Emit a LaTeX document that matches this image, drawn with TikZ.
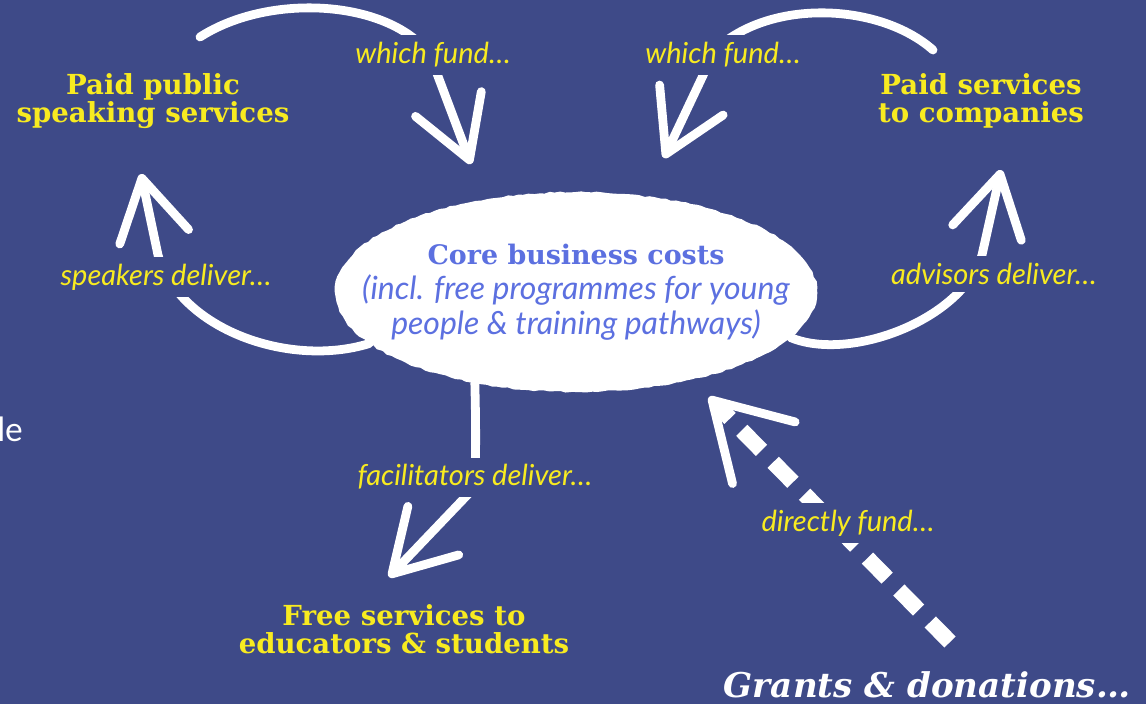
\documentclass[tikz,border=0pt]{standalone}
\usepackage{fontspec}
\setmainfont{DejaVu Serif}
\setsansfont{Lato}
\usetikzlibrary{arrows.meta,decorations.pathmorphing,shapes.geometric}

\definecolor{board}{RGB}{62,74,136}
\definecolor{sun}{RGB}{248,235,32}
\definecolor{ink}{RGB}{92,112,224}

\tikzset{
  chalk/.style={white,line width=5pt,line cap=round,line join=round},
  dashchalk/.style={white,line width=9pt,dash pattern=on 16pt off 9.5pt},
  head/.style={font=\bfseries\fontsize{15.7}{16}\selectfont,text=sun,align=center,inner sep=0pt},
  lbl/.style={font=\sffamily\itshape\fontsize{16.5}{18}\selectfont,text=sun,fill=board,inner sep=4pt},
  >={Straight Barb[length=34pt,width=40pt,round]}
}

\begin{document}
\begin{tikzpicture}[x=0.02cm,y=-0.02cm]
    \useasboundingbox (0,0) rectangle (1146,704);
    \fill[board] (0,0) rectangle (1146,704);

    % the four boxes of text round the middle
    \node[head](speak)at(153,101){Paid public\\speaking services};
    \node[head](firms)at(981,101){Paid services\\to companies};
    \node[head](free)at(404,629){Free services to\\educators \& students};
    \node[font=\bfseries\itshape\fontsize{19.4}{20}\selectfont,text=white,anchor=base,inner sep=0pt](grants)at(927,697){Grants \& donations…};
    \node[font=\sffamily\fontsize{19}{20}\selectfont,text=white,anchor=base west,inner sep=0pt](side)at(-3,441){le};

    % core costs
    \node[ellipse,fill=white,minimum width=9.64cm,minimum height=4cm,inner xsep=-25pt,inner ysep=4pt,align=center,
          text=ink,font=\sffamily\itshape\fontsize{18.2}{20}\selectfont,
          decorate,decoration={random steps,segment length=3pt,amplitude=.45pt}](core)at(576,292)
        {{\rmfamily\upshape\bfseries\fontsize{15.3}{16}\selectfont Core business costs}\\(incl. free programmes for young\\people \& training pathways)};

    % free ends of the loops
    \coordinate(spk-out)at(200,37);
    \coordinate(spk-tip)at(141,174);
    \coordinate(core-tipA)at(471,164);
    \coordinate(firm-out)at(933,50);
    \coordinate(firm-tip)at(1001,170);
    \coordinate(core-tipB)at(664,158);
    \coordinate(free-tip)at(389,577);
    \coordinate(grant-out)at(950,642);
    \coordinate(core-tipD)at(709,397);

    \draw[chalk,->](core.194)..controls(290,368)and(180,330)..(158,255)--(spk-tip);
    \draw[chalk,->](spk-out)..controls(270,-8)and(390,0)..(430,55)--(core-tipA);
    \draw[chalk,->](firm-out)..controls(880,3)and(770,-2)..(715,50)--(core-tipB);
    \draw[chalk,->](core.-12)..controls(850,362)and(962,320)..(982,255)--(firm-tip);
    \draw[chalk,->](core.222)..controls(476,430)and(476,465)..(474,488)--(free-tip);
    \draw[dashchalk,-{Straight Barb[length=42pt,width=50pt,round,line width=5pt]}](grant-out)--(core-tipD);

    % labels sit on top of the loops
    \node[lbl](fundA)at(433,55){which fund…};
    \node[lbl](fundB)at(723,55){which fund…};
    \node[lbl](spkdel)at(166,277){speakers deliver…};
    \node[lbl](advdel)at(994,274){advisors deliver…};
    \node[lbl](facdel)at(475,477){facilitators deliver…};
    \node[lbl](dirfund)at(848,523){directly fund…};
\end{tikzpicture}
\end{document}
